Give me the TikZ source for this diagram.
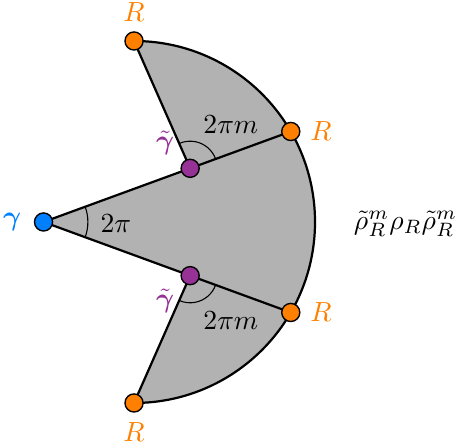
\documentclass[tikz,border=0pt]{standalone}
\usepackage{amsmath,amssymb}
\usepackage{tikz}
\usetikzlibrary{positioning,calc}
\usepackage{xcolor}
\definecolor{rorange}{RGB}{255,128,0}
\definecolor{gblue}{RGB}{0,128,255}
\definecolor{gpurple}{RGB}{150,50,150}
\begin{document}
\begin{tikzpicture}[x=1.15cm,y=1.15cm,
  dot/.style={circle,draw=black,line width=0.5pt,inner sep=0pt,minimum size=0.23cm},
  edge/.style={line width=0.8pt}]
\useasboundingbox (-1.481,-2.497) rectangle (3.580,2.453);
\coordinate (O) at (0,0);
\coordinate (g) at (-1,0);
\coordinate (r1) at (90:2);
\coordinate (r2) at (30:2);
\coordinate (r3) at (-30:2);
\coordinate (r4) at (-90:2);
\coordinate (p1) at ($(g)!0.593!(r2)$);
\coordinate (p2) at ($(g)!0.593!(r3)$);
% sector
\fill[gray!60] (r1) arc (90:-90:2) -- (p2) -- (g) -- (p1) -- cycle;
\draw[edge] (r1) arc (90:-90:2);
\draw[edge] (r1) -- (p1) -- (r2);
\draw[edge] (r4) -- (p2) -- (r3);
\draw[edge] (g) -- (p1);
\draw[edge] (g) -- (p2);
% angles
\draw[line width=0.4pt] ($(g)+(-20.1:0.49)$) arc (-20.1:20.1:0.49);
\draw[line width=0.4pt] ($(p1)+(20.1:0.3)$) arc (20.1:113.8:0.3);
\draw[line width=0.4pt] ($(p2)+(-20.1:0.3)$) arc (-20.1:-113.8:0.3);
\node (a0) at (-0.2,-0.02) {$2\pi$};
\node (a1) at ($(p1)+(0.45,0.48)$) {$2\pi m$};
\node (a2) at ($(p2)+(0.45,-0.5)$) {$2\pi m$};
% points
\node[dot,fill=gblue,label={[gblue,label distance=1pt]left:$\boldsymbol{\gamma}$}] (G) at (g) {};
\node[dot,fill=gpurple,label={[gpurple,label distance=-1pt]152:$\tilde{\boldsymbol{\gamma}}$}] (P1) at (p1) {};
\node[dot,fill=gpurple,label={[gpurple,label distance=-1pt]208:$\tilde{\boldsymbol{\gamma}}$}] (P2) at (p2) {};
\node[dot,fill=rorange,label={[rorange]above:$R$}] (R1) at (r1) {};
\node[dot,fill=rorange,label={[rorange]right:$R$}] (R2) at (r2) {};
\node[dot,fill=rorange,label={[rorange]right:$R$}] (R3) at (r3) {};
\node[dot,fill=rorange,label={[rorange]below:$R$}] (R4) at (r4) {};
\node (rho) at (3,-0.02) {$\tilde\rho_R^m\rho_R\tilde\rho_R^m$};
\end{tikzpicture}
\end{document}
